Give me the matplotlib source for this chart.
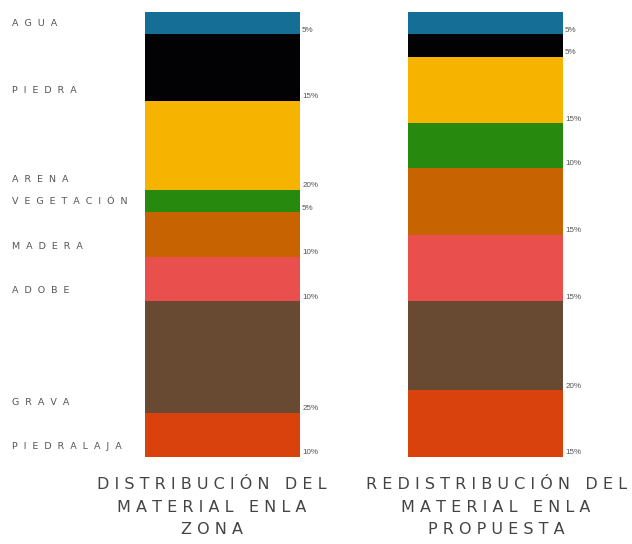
"""
Distribucion del material - barras apiladas al 100%
"""

import matplotlib
matplotlib.use("Agg")
import matplotlib.pyplot as plt
import numpy as np

# Datos
materials = ['AGUA', 'PIEDRA', 'ARENA', 'VEGETACIÓN', 'MADERA', 'ADOBE', 'GRAVA', 'PIEDRA LAJA']
zona = [5, 15, 20, 5, 10, 10, 25, 10]
propuesta = [5, 5, 15, 10, 15, 15, 20, 15]
bar_titles = ['DISTRIBUCIÓN DEL\nMATERIAL ENLA\nZONA',
              'REDISTRIBUCIÓN DEL\nMATERIAL ENLA\nPROPUESTA']
colors = ['#146e96', '#020204', '#f6b400', '#278a0e', '#c76300',
          '#e94f4c', '#684a33', '#d9420c']


def spaced(text, gap=' ', word_gap='   '):
    # letter spacing a mano
    lines = []
    for line in text.split('\n'):
        words = [gap.join(w) for w in line.split(' ')]
        lines.append(word_gap.join(words))
    return '\n'.join(lines)


fig = plt.figure(figsize=(6.32, 5.44), dpi=100, facecolor='white')
# barras de y=12px a y=457px
ax = fig.add_axes([0, 87 / 544, 1, 445 / 544])
ax.set_ylim(100, 0)
step = 263.0
ax.set_xlim(-222.5 / step, 1 + (632 - 485.5) / step)
ax.axis('off')

width = 155 / step
series = [zona, propuesta]
for i, vals in enumerate(series):
    bottoms = np.concatenate([[0], np.cumsum(vals)[:-1]])
    ax.bar(i, vals, bottom=bottoms, width=width, color=colors,
           edgecolor='none', align='center')
    for b, v in zip(bottoms, vals):
        ax.annotate(f'{v}%', xy=(i + width / 2, b + v), xytext=(1.5, 3),
                    textcoords='offset points', ha='left', va='center',
                    fontsize=5.8, color='#555555', family='Liberation Sans')

# etiquetas de material a la izquierda
bottoms = np.cumsum(zona)
for name, b in zip(materials, bottoms):
    ax.annotate(spaced(name, gap='  ', word_gap='  '), xy=(-222.5 / step, b),
                xytext=(8.6, 7.5), textcoords='offset points',
                ha='left', va='center', fontsize=6.8, color='#555555',
                family='DejaVu Sans')

# titulos debajo de cada barra
title_x = [212 / 632, 496 / 632]
for tx, t in zip(title_x, bar_titles):
    fig.text(tx, 1 - 507 / 544, spaced(t, word_gap='   '), ha='center',
             va='center', fontsize=11.5, color='#444444',
             linespacing=1.6, family='DejaVu Sans')

plt.savefig('out.png', dpi=100, facecolor='white')
